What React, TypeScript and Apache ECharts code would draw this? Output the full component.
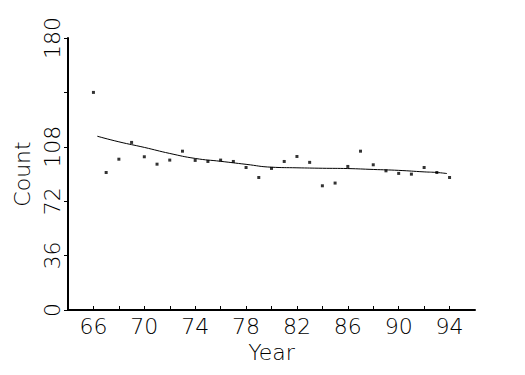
import React, { useEffect, useRef } from "react";
import * as echarts from "echarts";

const years = [66, 67, 68, 69, 70, 71, 72, 73, 74, 75, 76, 77, 78, 79, 80, 81, 82, 83, 84, 85, 86, 87, 88, 89, 90, 91, 92, 93, 94];
const counts = [144, 91, 99.8, 110.9, 101.4, 96.5, 99.2, 105.1, 99, 98.3, 99.2, 98.3, 94.3, 87.7, 93.7, 98.3, 101.6, 97.7, 82.2, 84, 95, 105.1, 96.1, 92.1, 90.4, 89.9, 94.3, 91, 87.7];
const fitYears = [66.3, 68, 70, 72, 74, 76, 78, 80, 82, 84, 86, 88, 90, 92, 93, 93.8];
const fitValues = [115, 111.3, 107.6, 103.6, 100.3, 98.4, 96.4, 94.5, 94.1, 93.8, 93.6, 93.0, 92.4, 91.4, 91.0, 90.3];
const xLabelYears = [66, 70, 74, 78, 82, 86, 90, 94];
const yLabelValues = [0, 36, 72, 108, 180];

const FONT = "'DejaVu Sans', sans-serif";

export default function App() {
  const ref = useRef<HTMLDivElement>(null);
  useEffect(() => {
    if (!ref.current) return;
    const chart = echarts.init(ref.current, null, { renderer: "svg" });
    chart.setOption({
      animation: false,
      backgroundColor: "#ffffff",
      grid: { left: 68, right: 50, top: 38, bottom: 65, containLabel: false },
      xAxis: {
        type: "value",
        min: 64,
        max: 96,
        interval: 2,
        name: "Year",
        nameLocation: "middle",
        nameGap: 30,
        nameTextStyle: { fontFamily: FONT, fontSize: 22, fontWeight: 200, color: "#000" },
        axisLine: { lineStyle: { color: "#000", width: 2 } },
        axisTick: { inside: true, length: 4, lineStyle: { color: "#000", width: 1 } },
        axisLabel: {
          fontFamily: FONT,
          fontSize: 22,
          fontWeight: 200,
          color: "#000",
          margin: 5,
          showMinLabel: false,
          showMaxLabel: false,
          formatter: (v: number) => (xLabelYears.includes(v) ? String(v) : ""),
        },
        splitLine: { show: false },
      },
      yAxis: {
        type: "value",
        min: 0,
        max: 180,
        interval: 36,
        name: "Count",
        nameLocation: "middle",
        nameGap: 33,
        nameTextStyle: { fontFamily: FONT, fontSize: 22, fontWeight: 200, color: "#000" },
        axisLine: { show: true, lineStyle: { color: "#000", width: 2 } },
        axisTick: { show: true, length: 4, lineStyle: { color: "#000", width: 1 } },
        axisLabel: {
          rotate: 90,
          fontFamily: FONT,
          fontSize: 22,
          fontWeight: 200,
          color: "#000",
          margin: 5,
          formatter: (v: number) => (yLabelValues.includes(v) ? String(v) : ""),
        },
        splitLine: { show: false },
      },
      series: [
        {
          type: "scatter",
          data: years.map((y, i) => [y, counts[i]]),
          symbol: "rect",
          symbolSize: [3, 3],
          itemStyle: { color: "#000" },
        },
        {
          type: "line",
          data: fitYears.map((y, i) => [y, fitValues[i]]),
          showSymbol: false,
          smooth: true,
          lineStyle: { color: "#000", width: 1 },
        },
      ],
    });
    return () => chart.dispose();
  }, []);
  return <div ref={ref} style={{ width: 525, height: 375, marginLeft: -8, marginTop: -8 }} />;
}
